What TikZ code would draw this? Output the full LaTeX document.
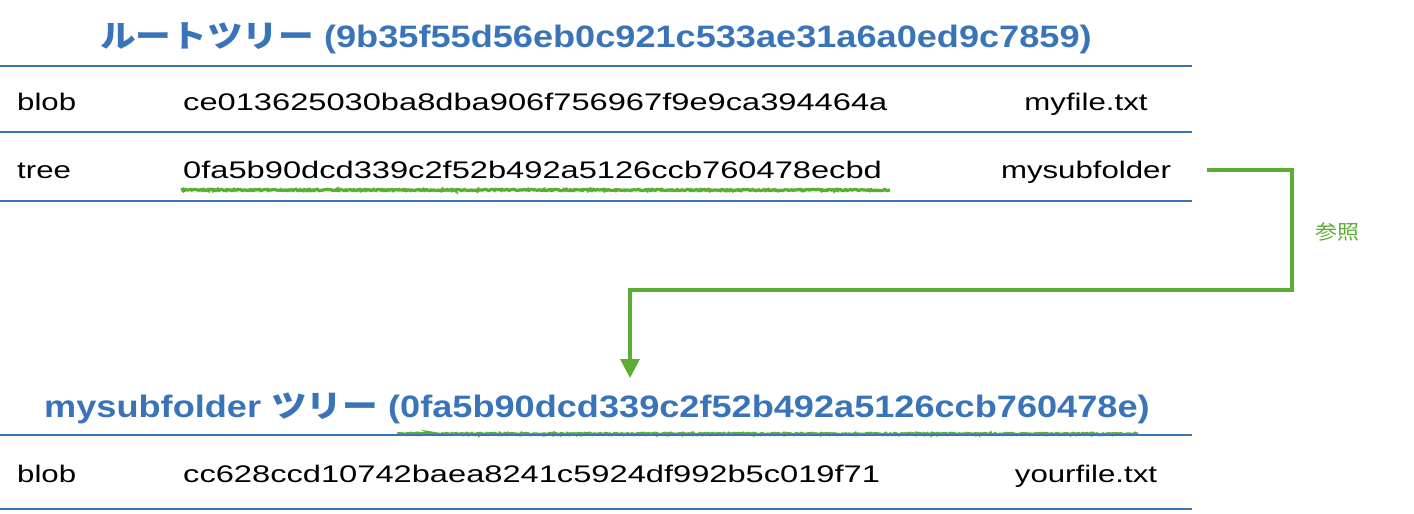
\documentclass[tikz,border=0pt]{standalone}
\usepackage{fontspec}
\setmainfont{Liberation Sans}[FakeStretch=1.3]
\newfontfamily\hashfont{Liberation Sans}[FakeStretch=1.36]
\newfontfamily\ttlfont{Liberation Sans}[FakeStretch=1.166]
\newfontfamily\cjk{Noto Sans CJK JP}[FakeStretch=1.15]
\newfontfamily\cjklabel{Noto Sans CJK JP}[FakeStretch=1.1]
\usetikzlibrary{decorations.pathmorphing,arrows.meta}
\definecolor{tblue}{HTML}{3A74B8}
\definecolor{tgreen}{HTML}{5BAD33}
\tikzset{
  rule/.style={draw=tblue,line width=2pt},
  cell/.style={inner sep=0pt,anchor=base west,font=\fontsize{24}{28}\selectfont,text=black},
  cellc/.style={cell,anchor=base},
  hash/.style={cell,font=\fontsize{24}{28}\selectfont\hashfont},
  ttl/.style={inner sep=0pt,anchor=base,font=\fontsize{31}{36}\selectfont\ttlfont\bfseries,text=tblue},
  squig/.style={draw=tgreen,line width=3.2pt,decorate,decoration={random steps,segment length=1.2pt,amplitude=0.7pt}},
  refline/.style={draw=tgreen,line width=3.5pt,-{Triangle[length=19pt,width=19pt]}},
  reflabel/.style={inner sep=0pt,text=tgreen,font=\fontsize{20}{24}\selectfont\cjklabel}
}
\begin{document}
\begin{tikzpicture}[x=1pt,y=-1pt]
\useasboundingbox (0,0) rectangle (1414,514);
% top table
\node[ttl] (t1) at (596,47) {{\cjk\bfseries ルートツリー} (9b35f55d56eb0c921c533ae31a6a0ed9c7859)};
\draw[rule] (0,66) -- (1192,66);
\node[cell] (r1a) at (17,110) {blob};
\node[hash] (r1b) at (183,110) {ce013625030ba8dba906f756967f9e9ca394464a};
\node[cellc] (r1c) at (1086,110) {myfile.txt};
\draw[rule] (0,132) -- (1192,132);
\node[cell] (r2a) at (17,178) {tree};
\node[hash] (r2b) at (183,178) {0fa5b90dcd339c2f52b492a5126ccb760478ecbd};
\node[cellc] (r2c) at (1086,178) {mysubfolder};
\draw[rule] (0,201) -- (1192,201);
\draw[squig] (181,190) -- (890,190);
% bottom table
\node[ttl] (t2) at (597,417) {mysubfolder {\cjk\bfseries ツリー} (0fa5b90dcd339c2f52b492a5126ccb760478e)};
\draw[squig] (397,434) -- (1138,434);
\draw[rule] (0,435) -- (1192,435);
\node[cell] (r3a) at (17,482) {blob};
\node[hash] (r3b) at (183,482) {cc628ccd10742baea8241c5924df992b5c019f71};
\node[cellc] (r3c) at (1086,482) {yourfile.txt};
\draw[rule] (0,509) -- (1192,509);
% reference connector
\coordinate (cs) at (1207,170);
\coordinate (ce) at (630,378);
\draw[refline] (cs) -- (1292,170) -- (1292,290) -- (630,290) -- (ce);
\node[reflabel] (lbl) at (1337,232) {参照};
\end{tikzpicture}
\end{document}
